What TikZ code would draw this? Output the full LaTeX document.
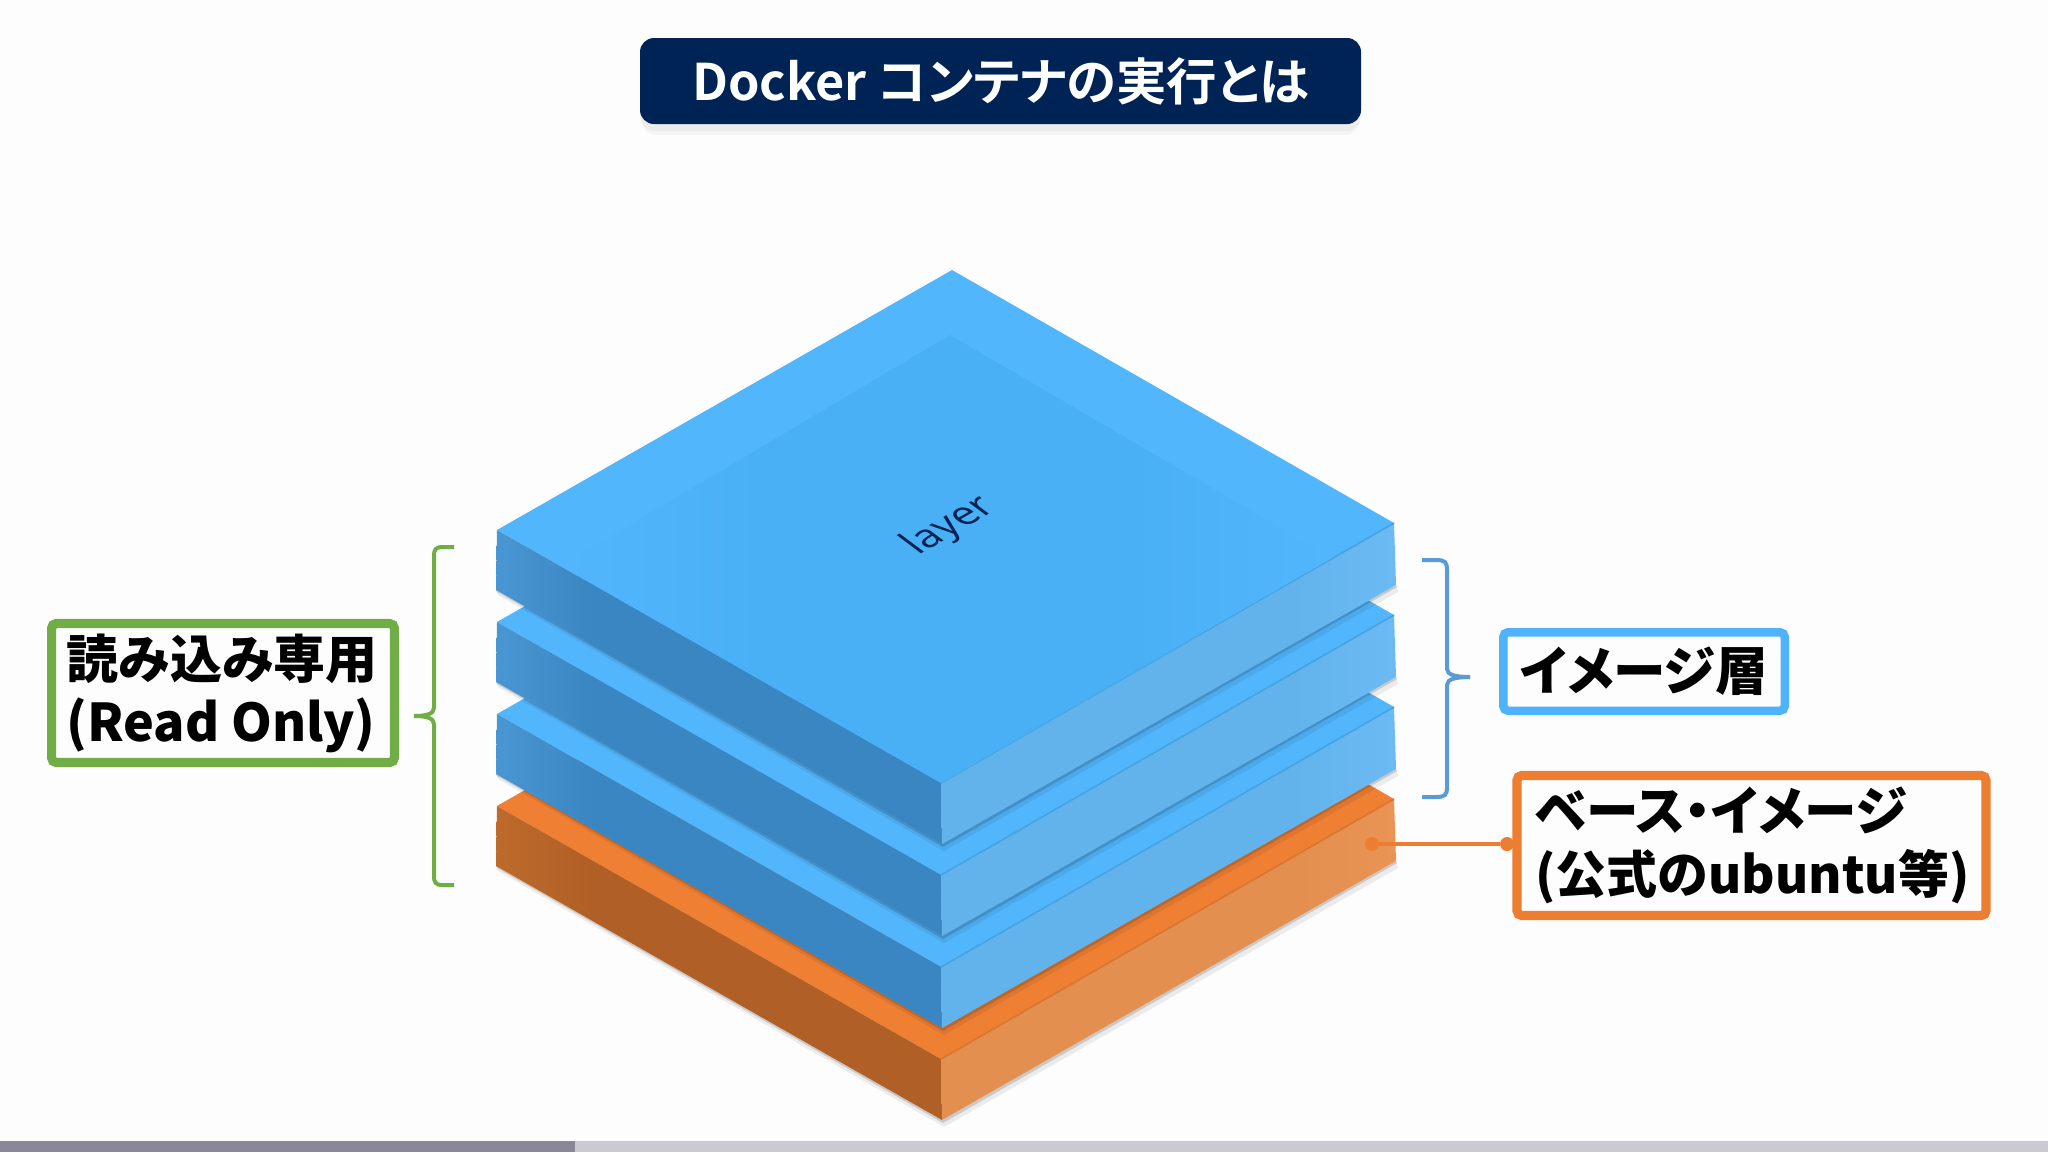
\documentclass[tikz,border=0pt]{standalone}
\usepackage{fontspec}
\newfontfamily\jpblack[RawFeature={+palt}]{Noto Sans CJK JP Black}
\newfontfamily\jpbold[RawFeature={+palt}]{Noto Sans CJK JP Bold}
\newfontfamily\lightfont{Open Sans}
\definecolor{bgc}{HTML}{FDFDFD}
\definecolor{navy}{HTML}{002356}
\definecolor{grn}{HTML}{70AD47}
\definecolor{bluebox}{HTML}{4FB3FB}
\definecolor{bracec}{HTML}{5B9BD5}
\definecolor{org}{HTML}{ED7D31}
\definecolor{bltop}{HTML}{52B6FC}
\definecolor{blinner}{HTML}{4AB0F6}
\definecolor{blleft}{HTML}{3A86C2}
\definecolor{blleftl}{HTML}{4896D2}
\definecolor{blright}{HTML}{62B3EC}
\definecolor{blrightl}{HTML}{6CBAF3}
\definecolor{blline}{HTML}{45A3E2}
\definecolor{ortop}{HTML}{EF7F33}
\definecolor{orleft}{HTML}{B05F26}
\definecolor{orleftl}{HTML}{BE6A2C}
\definecolor{orright}{HTML}{E38F50}
\definecolor{orrightl}{HTML}{E99455}
\definecolor{orline}{HTML}{D9762F}
\definecolor{bardark}{HTML}{8A8799}
\definecolor{barlight}{HTML}{CBC9D1}
\pgfdeclarehorizontalshading{blueL}{100bp}{color(0bp)=(blleftl);color(25bp)=(blleftl);color(36bp)=(blleft);color(100bp)=(blleft)}
\pgfdeclarehorizontalshading{blueR}{100bp}{color(0bp)=(blright);color(64bp)=(blright);color(75bp)=(blrightl);color(100bp)=(blrightl)}
\pgfdeclarehorizontalshading{orL}{100bp}{color(0bp)=(orleftl);color(25bp)=(orleftl);color(36bp)=(orleft);color(100bp)=(orleft)}
\pgfdeclarehorizontalshading{orR}{100bp}{color(0bp)=(orright);color(64bp)=(orright);color(75bp)=(orrightl);color(100bp)=(orrightl)}
\pgfdeclarehorizontalshading{blueIn}{100bp}{color(0bp)=(bltop);color(25bp)=(bltop);color(38bp)=(blinner);color(62bp)=(blinner);color(75bp)=(bltop);color(100bp)=(bltop)}
\tikzset{
  labelbox/.style={draw=#1,line width=4.6pt,rounded corners=2.4pt,fill=bgc,inner sep=0pt,text=black,font=\jpblack\fontsize{26}{31.5}\selectfont},
  bracket/.style={draw=#1,line width=2pt,line cap=butt},
  dot/.style={circle,fill=org,inner sep=0pt,minimum size=7pt},
}
% #1 offset, #2 top, #3 left shading, #4 right shading, #5 line colour
\newcommand\slab[5]{%
  \begin{scope}[shift={(0,#1)}]
    \fill[black,opacity=.07] (498,595) -- (944,851) -- (1398,592) -- (1396,585) -- (942,844) -- (496,590) -- cycle;
    \fill[black,opacity=.14] (497,592) -- (943,847) -- (1397,587) -- (1396,585) -- (942,844) -- (496,590) -- cycle;
    \fill[#2] (952,270) -- (1394,523) -- (941,783) -- (497,530) -- cycle;
    \shade[shading=#3] (497,530) -- (941,783) -- (942,844) -- (496,590) -- cycle;
    \shade[shading=#4] (941,783) -- (1394,523) -- (1396,585) -- (942,844) -- cycle;
    \draw[#5,line width=0.8pt] (941,783) -- (1394,523);
  \end{scope}}
\begin{document}
\begin{tikzpicture}[x=0.5pt,y=-0.5pt]
\useasboundingbox (0,0) rectangle (2048,1152);
\fill[bgc] (0,0) rectangle (2048,1152);
% bottom bar
\fill[barlight] (0,1141) rectangle (2048,1152);
\fill[bardark] (0,1141) rectangle (575,1152);
% title
\fill[black,opacity=.035,rounded corners=7pt] (642,46) rectangle (1359,135);
\fill[black,opacity=.03,rounded corners=7pt] (640,46) rectangle (1361,131);
\node[fill=navy,rounded corners=7pt,minimum width=360.5pt,minimum height=43pt,inner sep=0pt,text=white,font=\jpbold\fontsize{25.2}{28}\selectfont] (title) at (1000.5,81) {\raisebox{2.2pt}{Docker コンテナの実行とは}};
% stack
\slab{276}{ortop}{orL}{orR}{orline}
\slab{184}{bltop}{blueL}{blueR}{blline}
\slab{92}{bltop}{blueL}{blueR}{blline}
\slab{0}{bltop}{blueL}{blueR}{blline}
\shade[shading=blueIn] (950,335) -- (1332,558) -- (941,783) -- (561,566) -- cycle;
\begin{scope}[shift={(950,526)},cm={0.87,0.5,-0.8,0.6,(0,0)}]
\node[transform shape,text=navy,font=\lightfont\fontsize{20}{22}\selectfont] (layerlabel) at (0,0) {layer};
\end{scope}
% labels
\node[labelbox=grn,minimum width=171.4pt,minimum height=69.5pt,align=center] (readonly) at (223,693) {\hspace{-1pt}読み込み専用\\\hspace{-2pt}(Read Only)};
\node[labelbox=bluebox,line width=4.25pt,minimum width=140.75pt,minimum height=39.25pt,font=\jpblack\fontsize{26.3}{32}\selectfont] (imagelayer) at (1644,671.5) {イメージ層};
\node[labelbox=org,minimum width=234.5pt,minimum height=70pt,text width=216pt,align=left,font=\jpblack\fontsize{26.3}{31.5}\selectfont] (baseimage) at (1751.5,845.5) {ベース・イメージ\\{\fontsize{25.5}{31.5}\selectfont (公式のubuntu等)}};
% braces
\coordinate (gT) at (454,547); \coordinate (gB) at (454,885); \coordinate (gN) at (414,716);
\draw[bracket=grn] (gT) -- (443,547) .. controls (436,547) and (434,549) .. (434,556) -- (434,708) .. controls (434,714) and (426,716) .. (gN);
\draw[bracket=grn] (gB) -- (443,885) .. controls (436,885) and (434,883) .. (434,876) -- (434,724) .. controls (434,718) and (426,716) .. (gN);
\coordinate (bT) at (1422,560); \coordinate (bB) at (1422,797); \coordinate (bN) at (1470,677);
\draw[bracket=bracec] (bT) -- (1436,560) .. controls (1445,560) and (1447,562) .. (1447,570) -- (1447,669) .. controls (1447,675) and (1456,677) .. (bN);
\draw[bracket=bracec] (bB) -- (1436,797) .. controls (1445,797) and (1447,795) .. (1447,787) -- (1447,685) .. controls (1447,679) and (1456,677) .. (bN);
% leader
\node[dot] (d1) at (1372,844) {};
\node[dot] (d2) at (1507,844) {};
\draw[org,line width=2pt] (d1) -- (d2);
\end{tikzpicture}
\end{document}
